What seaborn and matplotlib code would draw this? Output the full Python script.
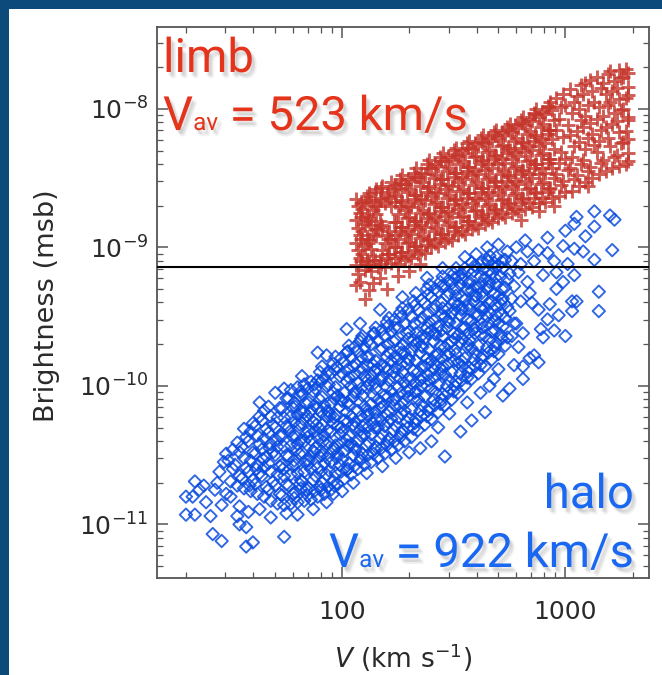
import matplotlib
matplotlib.use("Agg")
import matplotlib.pyplot as plt
import matplotlib.patheffects as pe
from matplotlib.patches import Rectangle
from matplotlib.transforms import IdentityTransform
from matplotlib.ticker import LogLocator, NullFormatter
import numpy as np
import seaborn as sns

# ---------------- data: (log10 V [km/s], log10 brightness [msb]) -------------
halo_core = [
 (1.50,-10.69),(1.51,-10.60),(1.49,-10.54),(1.51,-10.46),
 (1.53,-10.72),(1.54,-10.65),(1.52,-10.57),(1.54,-10.48),(1.53,-10.41),
 (1.56,-10.74),(1.55,-10.67),(1.57,-10.59),(1.56,-10.52),(1.55,-10.44),(1.57,-10.37),(1.56,-10.31),
 (1.59,-10.76),(1.60,-10.68),(1.58,-10.62),(1.59,-10.54),(1.60,-10.48),(1.58,-10.40),(1.59,-10.33),(1.60,-10.27),
 (1.62,-10.78),(1.61,-10.71),(1.63,-10.63),(1.62,-10.57),(1.61,-10.49),(1.63,-10.42),(1.62,-10.36),(1.61,-10.29),(1.63,-10.22),
 (1.65,-10.80),(1.66,-10.73),(1.64,-10.65),(1.65,-10.59),(1.66,-10.51),(1.64,-10.46),(1.65,-10.38),(1.66,-10.31),(1.64,-10.25),(1.65,-10.18),
 (1.68,-10.83),(1.67,-10.75),(1.69,-10.69),(1.68,-10.62),(1.67,-10.56),(1.69,-10.48),(1.68,-10.42),(1.67,-10.34),(1.69,-10.28),(1.68,-10.22),(1.67,-10.15),
 (1.71,-10.85),(1.72,-10.78),(1.70,-10.72),(1.71,-10.64),(1.72,-10.58),(1.70,-10.50),(1.71,-10.44),(1.72,-10.36),(1.70,-10.30),(1.71,-10.23),(1.72,-10.16),
 (1.74,-10.86),(1.73,-10.79),(1.75,-10.71),(1.74,-10.65),(1.73,-10.57),(1.75,-10.50),(1.74,-10.44),(1.73,-10.36),(1.75,-10.29),(1.74,-10.23),(1.73,-10.16),(1.75,-10.09),
 (1.77,-10.85),(1.78,-10.78),(1.76,-10.72),(1.77,-10.64),(1.78,-10.58),(1.76,-10.51),(1.77,-10.43),(1.78,-10.37),(1.76,-10.30),(1.77,-10.22),(1.78,-10.16),(1.76,-10.09),(1.77,-10.03),
 (1.80,-10.84),(1.79,-10.77),(1.81,-10.71),(1.80,-10.63),(1.79,-10.57),(1.81,-10.49),(1.80,-10.42),(1.79,-10.36),(1.81,-10.28),(1.80,-10.21),(1.79,-10.15),(1.81,-10.07),(1.80,-10.01),
 (1.83,-10.83),(1.84,-10.75),(1.82,-10.69),(1.83,-10.62),(1.84,-10.54),(1.82,-10.48),(1.83,-10.40),(1.84,-10.34),(1.82,-10.27),(1.83,-10.19),(1.84,-10.13),(1.82,-10.06),(1.83,-9.99),
 (1.86,-10.82),(1.85,-10.74),(1.87,-10.68),(1.86,-10.60),(1.85,-10.54),(1.87,-10.47),(1.86,-10.39),(1.85,-10.33),(1.87,-10.26),(1.86,-10.18),(1.85,-10.12),(1.87,-10.04),(1.86,-9.97),
 (1.89,-10.80),(1.90,-10.73),(1.88,-10.65),(1.89,-10.59),(1.90,-10.51),(1.88,-10.45),(1.89,-10.37),(1.90,-10.31),(1.88,-10.24),(1.89,-10.16),(1.90,-10.10),(1.88,-10.02),(1.89,-9.96),(1.90,-9.90),
 (1.92,-10.78),(1.91,-10.70),(1.93,-10.64),(1.92,-10.56),(1.91,-10.50),(1.93,-10.42),(1.92,-10.36),(1.91,-10.28),(1.93,-10.22),(1.92,-10.14),(1.91,-10.08),(1.93,-10.00),(1.92,-9.94),(1.91,-9.86),
 (1.95,-10.75),(1.96,-10.69),(1.94,-10.61),(1.95,-10.55),(1.96,-10.47),(1.94,-10.41),(1.95,-10.33),(1.96,-10.27),(1.94,-10.19),(1.95,-10.13),(1.96,-10.05),(1.94,-9.99),(1.95,-9.91),(1.96,-9.84),
 (1.98,-10.71),(1.97,-10.63),(1.99,-10.57),(1.98,-10.49),(1.97,-10.43),(1.99,-10.35),(1.98,-10.29),(1.97,-10.21),(1.99,-10.15),(1.98,-10.07),(1.97,-10.01),(1.99,-9.93),(1.98,-9.87),(1.97,-9.79),
 (2.01,-10.67),(2.02,-10.61),(2.00,-10.53),(2.01,-10.47),(2.02,-10.39),(2.00,-10.33),(2.01,-10.25),(2.02,-10.19),(2.00,-10.11),(2.01,-10.05),(2.02,-9.97),(2.00,-9.91),(2.01,-9.83),(2.02,-9.76),
 (2.04,-10.64),(2.03,-10.56),(2.05,-10.50),(2.04,-10.42),(2.03,-10.36),(2.05,-10.28),(2.04,-10.22),(2.03,-10.14),(2.05,-10.08),(2.04,-10.00),(2.03,-9.94),(2.05,-9.86),(2.04,-9.80),(2.03,-9.71),
 (2.07,-10.60),(2.08,-10.54),(2.06,-10.46),(2.07,-10.40),(2.08,-10.32),(2.06,-10.26),(2.07,-10.18),(2.08,-10.12),(2.06,-10.04),(2.07,-9.98),(2.08,-9.90),(2.06,-9.84),(2.07,-9.75),(2.08,-9.68),
 (2.10,-10.57),(2.09,-10.49),(2.11,-10.43),(2.10,-10.35),(2.09,-10.29),(2.11,-10.21),(2.10,-10.15),(2.09,-10.07),(2.11,-10.01),(2.10,-9.93),(2.09,-9.87),(2.11,-9.79),(2.10,-9.72),(2.09,-9.64),
 (2.13,-10.55),(2.14,-10.49),(2.12,-10.41),(2.13,-10.35),(2.14,-10.27),(2.12,-10.21),(2.13,-10.13),(2.14,-10.07),(2.12,-9.99),(2.13,-9.93),(2.14,-9.85),(2.12,-9.79),(2.13,-9.70),(2.14,-9.62),
 (2.16,-10.52),(2.15,-10.44),(2.17,-10.38),(2.16,-10.30),(2.15,-10.24),(2.17,-10.16),(2.16,-10.10),(2.15,-10.02),(2.17,-9.96),(2.16,-9.88),(2.15,-9.82),(2.17,-9.74),(2.16,-9.67),(2.15,-9.58),
 (2.19,-10.49),(2.20,-10.43),(2.18,-10.35),(2.19,-10.29),(2.20,-10.21),(2.18,-10.15),(2.19,-10.07),(2.20,-10.01),(2.18,-9.93),(2.19,-9.87),(2.20,-9.79),(2.18,-9.73),(2.19,-9.64),(2.20,-9.54),
 (2.22,-10.46),(2.21,-10.38),(2.23,-10.32),(2.22,-10.24),(2.21,-10.18),(2.23,-10.10),(2.22,-10.04),(2.21,-9.96),(2.23,-9.90),(2.22,-9.82),(2.21,-9.76),(2.23,-9.68),(2.22,-9.61),(2.21,-9.51),
 (2.25,-10.43),(2.26,-10.37),(2.24,-10.29),(2.25,-10.23),(2.26,-10.15),(2.24,-10.09),(2.25,-10.01),(2.26,-9.95),(2.24,-9.87),(2.25,-9.81),(2.26,-9.73),(2.24,-9.67),(2.25,-9.58),(2.26,-9.47),
 (2.28,-10.40),(2.27,-10.32),(2.29,-10.26),(2.28,-10.18),(2.27,-10.12),(2.29,-10.04),(2.28,-9.98),(2.27,-9.90),(2.29,-9.84),(2.28,-9.76),(2.27,-9.70),(2.29,-9.62),(2.28,-9.55),(2.27,-9.44),
 (2.31,-10.37),(2.32,-10.31),(2.30,-10.23),(2.31,-10.17),(2.32,-10.09),(2.30,-10.03),(2.31,-9.95),(2.32,-9.89),(2.30,-9.81),(2.31,-9.75),(2.32,-9.67),(2.30,-9.61),(2.31,-9.50),(2.32,-9.39),
 (2.34,-10.32),(2.33,-10.24),(2.35,-10.18),(2.34,-10.10),(2.33,-10.04),(2.35,-9.96),(2.34,-9.90),(2.33,-9.82),(2.35,-9.76),(2.34,-9.68),(2.33,-9.62),(2.35,-9.54),(2.34,-9.45),(2.33,-9.33),
 (2.37,-10.28),(2.38,-10.22),(2.36,-10.14),(2.37,-10.08),(2.38,-10.00),(2.36,-9.94),(2.37,-9.86),(2.38,-9.80),(2.36,-9.72),(2.37,-9.66),(2.38,-9.58),(2.36,-9.51),(2.37,-9.40),(2.38,-9.30),
 (2.40,-10.24),(2.39,-10.16),(2.41,-10.10),(2.40,-10.02),(2.39,-9.96),(2.41,-9.88),(2.40,-9.82),(2.39,-9.74),(2.41,-9.68),(2.40,-9.60),(2.39,-9.54),(2.41,-9.45),(2.40,-9.36),(2.39,-9.27),
 (2.43,-10.19),(2.44,-10.13),(2.42,-10.05),(2.43,-9.99),(2.44,-9.91),(2.42,-9.85),(2.43,-9.77),(2.44,-9.71),(2.42,-9.63),(2.43,-9.57),(2.44,-9.49),(2.42,-9.42),(2.43,-9.32),(2.44,-9.25),
 (2.46,-10.14),(2.45,-10.06),(2.47,-10.00),(2.46,-9.92),(2.45,-9.86),(2.47,-9.78),(2.46,-9.72),(2.45,-9.64),(2.47,-9.58),(2.46,-9.50),(2.45,-9.44),(2.47,-9.35),(2.46,-9.28),(2.45,-9.21),
 (2.49,-10.10),(2.50,-10.04),(2.48,-9.96),(2.49,-9.90),(2.50,-9.82),(2.48,-9.76),(2.49,-9.68),(2.50,-9.62),(2.48,-9.54),(2.49,-9.48),(2.50,-9.40),(2.48,-9.33),(2.49,-9.26),(2.50,-9.19),
 (2.52,-10.05),(2.51,-9.97),(2.53,-9.91),(2.52,-9.83),(2.51,-9.77),(2.53,-9.69),(2.52,-9.63),(2.51,-9.55),(2.53,-9.49),(2.52,-9.41),(2.51,-9.35),(2.53,-9.27),(2.52,-9.21),(2.51,-9.15),
 (2.55,-10.00),(2.56,-9.94),(2.54,-9.86),(2.55,-9.80),(2.56,-9.72),(2.54,-9.66),(2.55,-9.58),(2.56,-9.52),(2.54,-9.44),(2.55,-9.38),(2.56,-9.30),(2.54,-9.23),(2.55,-9.15),
 (2.58,-9.95),(2.57,-9.87),(2.59,-9.81),(2.58,-9.73),(2.57,-9.67),(2.59,-9.59),(2.58,-9.53),(2.57,-9.45),(2.59,-9.39),(2.58,-9.31),(2.57,-9.25),(2.59,-9.17),(2.58,-9.11),
 (2.61,-9.91),(2.62,-9.85),(2.60,-9.77),(2.61,-9.71),(2.62,-9.63),(2.60,-9.57),(2.61,-9.49),(2.62,-9.43),(2.60,-9.35),(2.61,-9.29),(2.62,-9.21),(2.60,-9.14),
 (2.64,-9.86),(2.63,-9.78),(2.65,-9.72),(2.64,-9.64),(2.63,-9.58),(2.65,-9.50),(2.64,-9.44),(2.63,-9.36),(2.65,-9.30),(2.64,-9.22),(2.63,-9.16),(2.65,-9.09),
 (2.67,-9.81),(2.68,-9.75),(2.66,-9.67),(2.67,-9.61),(2.68,-9.53),(2.66,-9.47),(2.67,-9.39),(2.68,-9.33),(2.66,-9.25),(2.67,-9.19),(2.68,-9.11),(2.66,-9.06),
 (2.70,-9.77),(2.69,-9.69),(2.71,-9.63),(2.70,-9.55),(2.69,-9.49),(2.71,-9.41),(2.70,-9.35),(2.69,-9.27),(2.71,-9.21),(2.70,-9.13),(2.69,-9.07),
 (2.73,-9.71),(2.74,-9.65),(2.72,-9.57),(2.73,-9.51),(2.74,-9.43),(2.72,-9.37),(2.73,-9.29),(2.74,-9.23),(2.72,-9.15),(2.73,-9.09),(2.74,-9.03),
 (2.76,-9.64),(2.77,-9.55),(2.75,-9.46),(2.76,-9.37),(2.77,-9.28),(2.75,-9.19),(2.76,-9.10),
]
halo_core_b = [
 (1.585,-10.72),(1.615,-10.60),(1.645,-10.53),(1.675,-10.45),(1.705,-10.39),(1.735,-10.60),(1.765,-10.33),
 (1.795,-10.46),(1.825,-10.24),(1.855,-10.51),(1.885,-10.28),(1.915,-10.40),(1.945,-10.22),(1.975,-10.52),
 (1.815,-10.68),(1.845,-10.37),(1.875,-10.14),(1.905,-10.62),(1.935,-10.32),(1.965,-10.09),(1.995,-10.41),
 (2.025,-10.26),(2.055,-10.05),(2.085,-10.36),(2.115,-9.96),(2.145,-10.19),(2.175,-9.85),(2.205,-10.08),
 (2.025,-9.88),(2.055,-10.44),(2.085,-9.79),(2.115,-10.30),(2.145,-9.89),(2.175,-10.25),(2.205,-9.70),
 (2.235,-9.94),(2.265,-10.20),(2.295,-9.80),(2.325,-10.05),(2.355,-9.71),(2.385,-9.92),(2.415,-9.62),
 (2.235,-9.58),(2.265,-9.85),(2.295,-10.08),(2.325,-9.55),(2.355,-9.86),(2.385,-9.48),(2.415,-9.78),
 (2.445,-9.88),(2.475,-9.53),(2.505,-9.74),(2.535,-9.45),(2.565,-9.62),(2.595,-9.35),(2.625,-9.55),
 (2.445,-9.40),(2.475,-9.70),(2.505,-9.30),(2.535,-9.82),(2.565,-9.26),(2.595,-9.48),(2.625,-9.26),
 (2.655,-9.40),(2.685,-9.60),(2.715,-9.30),(2.655,-9.17),(2.685,-9.22),(2.715,-9.48),
]
halo_core_c = [
 (1.785,-10.81),(1.785,-10.54),(1.785,-10.26),(1.785,-10.12),
 (1.815,-10.74),(1.815,-10.39),(1.815,-10.18),(1.815,-10.04),
 (1.845,-10.79),(1.845,-10.57),(1.845,-10.22),(1.845,-10.02),
 (1.875,-10.76),(1.875,-10.48),(1.875,-10.33),(1.875,-9.99),
 (1.905,-10.75),(1.905,-10.47),(1.905,-10.19),(1.905,-9.97),
 (1.935,-10.73),(1.935,-10.52),(1.935,-10.18),(1.935,-9.90),
 (1.965,-10.72),(1.965,-10.45),(1.965,-10.23),(1.965,-9.88),
 (1.995,-10.62),(1.995,-10.30),(1.995,-10.10),(1.995,-9.80),
 (2.025,-10.60),(2.025,-10.43),(2.025,-10.12),(2.025,-9.75),
 (2.055,-10.58),(2.055,-10.30),(2.055,-9.92),(2.055,-9.72),
 (2.085,-10.52),(2.085,-10.22),(2.085,-10.02),(2.085,-9.66),
 (2.115,-10.50),(2.115,-10.18),(2.115,-9.85),(2.115,-9.68),
 (2.145,-10.46),(2.145,-10.30),(2.145,-9.98),(2.145,-9.62),
 (2.175,-10.45),(2.175,-10.12),(2.175,-9.95),(2.175,-9.60),
 (2.205,-10.40),(2.205,-10.26),(2.205,-9.88),(2.205,-9.57),
 (2.235,-10.40),(2.235,-10.14),(2.235,-9.79),(2.235,-9.52),
 (2.265,-10.34),(2.265,-10.05),(2.265,-9.76),(2.265,-9.50),
 (2.295,-10.30),(2.295,-9.95),(2.295,-9.66),(2.295,-9.45),
 (2.325,-10.27),(2.325,-9.98),(2.325,-9.71),(2.325,-9.42),
 (2.355,-10.22),(2.355,-10.00),(2.355,-9.64),(2.355,-9.38),
 (2.385,-10.18),(2.385,-9.84),(2.385,-9.62),(2.385,-9.34),
 (2.415,-10.14),(2.415,-9.94),(2.415,-9.52),(2.415,-9.30),
 (2.445,-10.10),(2.445,-9.80),(2.445,-9.60),(2.445,-9.28),
 (2.475,-10.05),(2.475,-9.84),(2.475,-9.44),(2.475,-9.24),
 (2.505,-10.00),(2.505,-9.66),(2.505,-9.45),(2.505,-9.22),
 (2.535,-9.96),(2.535,-9.58),(2.535,-9.36),(2.535,-9.19),
 (2.565,-9.90),(2.565,-9.70),(2.565,-9.42),(2.565,-9.17),
 (2.595,-9.86),(2.595,-9.62),(2.595,-9.28),(2.595,-9.13),
 (2.625,-9.80),(2.625,-9.45),(2.625,-9.33),(2.625,-9.11),
 (2.655,-9.76),(2.655,-9.55),(2.655,-9.28),(2.655,-9.10),
 (2.685,-9.72),(2.685,-9.42),(2.685,-9.15),
 (2.715,-9.66),(2.715,-9.38),(2.715,-9.10),
]
halo_sparse = [
 (1.30,-10.80),(1.34,-10.69),(1.33,-10.80),(1.30,-10.93),(1.34,-10.93),(1.38,-10.72),(1.39,-10.84),
 (1.41,-10.94),(1.43,-10.75),(1.42,-11.07),(1.46,-11.12),(1.48,-10.78),(1.54,-11.00),(1.57,-11.02),
 (1.53,-10.94),(1.57,-11.16),(1.60,-11.13),(1.74,-11.09),(1.54,-10.87),(1.58,-10.91),(1.45,-10.62),
 (1.47,-10.55),(1.44,-10.70),(1.36,-10.75),(1.48,-10.49),(1.50,-10.80),(1.46,-10.86),
 (1.63,-10.89),(1.75,-10.92),(1.87,-10.89),(1.93,-10.84),(1.96,-10.78),(1.68,-10.95),(1.80,-10.93),
 (2.00,-10.76),(2.05,-10.70),(2.11,-10.63),(2.18,-10.58),(2.24,-10.52),(2.30,-10.48),(2.35,-10.45),
 (2.40,-10.40),(2.43,-10.30),(2.46,-10.51),(2.48,-10.20),(2.53,-10.33),(2.56,-10.12),(2.58,-10.25),
 (2.62,-10.05),(2.64,-10.19),(2.66,-10.00),(2.68,-9.95),(2.70,-9.88),(2.72,-10.07),(2.75,-10.02),
 (2.77,-9.85),(2.79,-9.72),(2.81,-9.95),(2.81,-9.86),(2.84,-9.80),(2.86,-9.78),(2.88,-9.83),
 (2.78,-9.55),(2.81,-9.62),(2.89,-9.59),(2.90,-9.65),(2.95,-9.60),(3.00,-9.64),(2.97,-9.49),
 (3.03,-9.46),(3.15,-9.46),(2.93,-9.41),(3.03,-9.39),(3.05,-9.39),(2.80,-9.39),(3.15,-9.32),
 (2.85,-9.40),(2.88,-9.45),(2.92,-9.52),(2.84,-9.33),
 (3.13,-8.74),(3.20,-8.77),(3.22,-8.80),(3.21,-9.02),(3.05,-8.78),(3.04,-8.83),(3.13,-8.85),
 (3.09,-8.92),(3.00,-8.88),(2.92,-8.93),(2.99,-8.99),(3.04,-9.01),(3.13,-9.09),(3.08,-9.03),
 (2.88,-9.02),(2.83,-9.03),(2.92,-9.04),(3.01,-9.12),(2.99,-9.25),(2.96,-9.30),(3.04,-9.20),
 (2.96,-9.18),(2.90,-9.20),(2.83,-9.25),(2.86,-9.10),(2.80,-9.12),(2.78,-9.00),(2.95,-9.10),
 (2.70,-8.98),(2.65,-9.00),(2.82,-8.95),(2.79,-9.18),
 (1.63,-10.12),(1.70,-10.05),(1.74,-10.02),(1.82,-9.93),(1.89,-9.76),(1.93,-9.78),(2.02,-9.59),
 (2.08,-9.55),(2.17,-9.45),(2.27,-9.36),(2.38,-9.22),(2.45,-9.15),(2.55,-9.07),(2.60,-9.05),
]
limb_core = [
 (2.07,-9.19),(2.06,-9.13),(2.08,-9.08),(2.07,-9.02),(2.06,-8.97),(2.08,-8.91),(2.07,-8.86),(2.06,-8.80),(2.08,-8.75),(2.07,-8.70),(2.06,-8.65),
 (2.10,-9.16),(2.11,-9.10),(2.09,-9.05),(2.10,-8.99),(2.11,-8.94),(2.09,-8.88),(2.10,-8.83),(2.11,-8.77),(2.09,-8.72),(2.10,-8.67),(2.11,-8.63),
 (2.13,-9.17),(2.12,-9.12),(2.14,-9.06),(2.13,-9.01),(2.12,-8.95),(2.14,-8.90),(2.13,-8.84),(2.12,-8.79),(2.14,-8.73),(2.13,-8.67),(2.12,-8.61),
 (2.16,-9.14),(2.17,-9.09),(2.15,-8.92),(2.16,-8.87),(2.17,-8.81),(2.15,-8.76),(2.16,-8.70),(2.17,-8.64),(2.15,-8.58),
 (2.19,-9.14),(2.20,-9.08),(2.18,-9.02),(2.19,-8.97),(2.20,-8.91),(2.18,-8.85),(2.19,-8.68),(2.20,-8.62),(2.18,-8.56),
 (2.22,-9.11),(2.21,-9.05),(2.23,-9.00),(2.22,-8.94),(2.21,-8.88),(2.23,-8.82),(2.22,-8.70),(2.21,-8.64),(2.23,-8.58),(2.22,-8.53),
 (2.25,-9.12),(2.26,-9.06),(2.24,-9.00),(2.25,-8.94),(2.26,-8.88),(2.24,-8.82),(2.25,-8.76),(2.26,-8.70),(2.24,-8.63),(2.25,-8.57),(2.26,-8.51),
 (2.28,-9.09),(2.27,-9.03),(2.29,-8.97),(2.28,-8.91),(2.27,-8.85),(2.29,-8.79),(2.28,-8.73),(2.27,-8.67),(2.29,-8.60),(2.28,-8.54),(2.27,-8.48),
 (2.31,-9.08),(2.32,-9.02),(2.30,-8.96),(2.31,-8.90),(2.32,-8.84),(2.30,-8.78),(2.31,-8.71),(2.32,-8.65),(2.30,-8.58),(2.31,-8.52),(2.32,-8.46),
 (2.34,-9.05),(2.33,-8.99),(2.35,-8.93),(2.34,-8.87),(2.33,-8.81),(2.35,-8.75),(2.34,-8.68),(2.33,-8.62),(2.35,-8.56),(2.34,-8.49),(2.33,-8.43),
 (2.37,-9.04),(2.38,-8.98),(2.36,-8.92),(2.37,-8.85),(2.38,-8.79),(2.36,-8.73),(2.37,-8.66),(2.38,-8.60),(2.36,-8.53),(2.37,-8.47),(2.38,-8.40),
 (2.40,-9.00),(2.39,-8.94),(2.41,-8.88),(2.40,-8.82),(2.39,-8.75),(2.41,-8.69),(2.40,-8.63),(2.39,-8.56),(2.41,-8.50),(2.40,-8.43),(2.39,-8.37),
 (2.43,-8.99),(2.44,-8.93),(2.42,-8.86),(2.43,-8.80),(2.44,-8.74),(2.42,-8.67),(2.43,-8.61),(2.44,-8.54),(2.42,-8.48),(2.43,-8.41),(2.44,-8.35),
 (2.46,-8.96),(2.45,-8.90),(2.47,-8.84),(2.46,-8.77),(2.45,-8.71),(2.47,-8.64),(2.46,-8.58),(2.45,-8.51),(2.47,-8.45),(2.46,-8.38),(2.45,-8.32),
 (2.49,-8.95),(2.50,-8.88),(2.48,-8.82),(2.49,-8.75),(2.50,-8.69),(2.48,-8.62),(2.49,-8.56),(2.50,-8.49),(2.48,-8.43),(2.49,-8.36),(2.50,-8.30),
 (2.52,-8.91),(2.51,-8.85),(2.53,-8.78),(2.52,-8.72),(2.51,-8.65),(2.53,-8.59),(2.52,-8.53),(2.51,-8.46),(2.53,-8.40),(2.52,-8.34),(2.51,-8.28),
 (2.55,-8.90),(2.56,-8.84),(2.54,-8.77),(2.55,-8.71),(2.56,-8.64),(2.54,-8.58),(2.55,-8.51),(2.56,-8.45),(2.54,-8.38),(2.55,-8.32),(2.56,-8.25),
 (2.58,-8.87),(2.57,-8.81),(2.59,-8.74),(2.58,-8.68),(2.57,-8.61),(2.59,-8.55),(2.58,-8.48),(2.57,-8.42),(2.59,-8.35),(2.58,-8.29),(2.57,-8.23),
 (2.61,-8.86),(2.62,-8.79),(2.60,-8.73),(2.61,-8.66),(2.62,-8.60),(2.60,-8.53),(2.61,-8.47),(2.62,-8.40),(2.60,-8.34),(2.61,-8.27),(2.62,-8.21),
 (2.64,-8.83),(2.63,-8.77),(2.65,-8.70),(2.64,-8.64),(2.63,-8.57),(2.65,-8.51),(2.64,-8.44),(2.63,-8.38),(2.65,-8.31),(2.64,-8.25),(2.63,-8.19),
 (2.67,-8.82),(2.68,-8.75),(2.66,-8.69),(2.67,-8.62),(2.68,-8.56),(2.66,-8.49),(2.67,-8.43),(2.68,-8.36),(2.66,-8.30),(2.67,-8.23),(2.68,-8.17),
 (2.70,-8.79),(2.69,-8.73),(2.71,-8.66),(2.70,-8.60),(2.69,-8.53),(2.71,-8.47),(2.70,-8.40),(2.69,-8.34),(2.71,-8.27),(2.70,-8.21),(2.69,-8.15),
 (2.73,-8.78),(2.74,-8.71),(2.72,-8.65),(2.73,-8.58),(2.74,-8.52),(2.72,-8.45),(2.73,-8.39),(2.74,-8.32),(2.72,-8.26),(2.73,-8.19),(2.74,-8.13),
 (2.76,-8.75),(2.75,-8.69),(2.77,-8.62),(2.76,-8.56),(2.75,-8.49),(2.77,-8.43),(2.76,-8.36),(2.75,-8.30),(2.77,-8.23),(2.76,-8.17),(2.75,-8.11),
 (2.79,-8.74),(2.80,-8.67),(2.78,-8.61),(2.79,-8.54),(2.80,-8.47),(2.78,-8.41),(2.79,-8.34),(2.80,-8.28),(2.78,-8.21),(2.79,-8.14),(2.80,-8.08),
 (2.82,-8.72),(2.81,-8.65),(2.83,-8.58),(2.82,-8.52),(2.81,-8.45),(2.83,-8.38),(2.82,-8.31),(2.81,-8.25),(2.83,-8.18),(2.82,-8.12),(2.81,-8.06),
 (2.85,-8.71),(2.86,-8.64),(2.84,-8.57),(2.85,-8.50),(2.86,-8.43),(2.84,-8.37),(2.85,-8.30),(2.86,-8.23),(2.84,-8.16),(2.85,-8.09),(2.86,-8.03),
 (2.88,-8.68),(2.87,-8.61),(2.89,-8.54),(2.88,-8.47),(2.87,-8.40),(2.89,-8.33),(2.88,-8.27),(2.87,-8.20),(2.89,-8.13),(2.88,-8.06),(2.87,-8.00),
 (2.91,-8.67),(2.92,-8.60),(2.90,-8.53),(2.91,-8.46),(2.92,-8.39),(2.90,-8.32),(2.91,-8.25),(2.92,-8.18),(2.90,-8.11),(2.91,-8.04),(2.92,-7.98),
 (2.94,-8.64),(2.93,-8.57),(2.95,-8.50),(2.94,-8.43),(2.93,-8.36),(2.95,-8.29),(2.94,-8.22),(2.93,-8.15),(2.95,-8.08),(2.94,-8.01),(2.93,-7.95),
 (2.97,-8.63),(2.98,-8.55),(2.96,-8.47),(2.97,-8.39),(2.98,-8.31),(2.96,-8.15),(2.97,-8.07),(2.98,-7.99),(2.96,-7.92),
 (3.00,-8.60),(2.99,-8.52),(3.01,-8.44),(3.00,-8.36),(2.99,-8.20),(3.01,-8.12),(3.00,-7.97),(2.99,-7.89),
 (3.03,-8.59),(3.04,-8.51),(3.02,-8.43),(3.03,-8.35),(3.04,-8.27),(3.02,-8.19),(3.03,-8.03),(3.04,-7.95),(3.02,-7.86),
 (3.06,-8.56),(3.05,-8.48),(3.07,-8.40),(3.06,-8.24),(3.05,-8.16),(3.07,-8.08),(3.06,-8.00),(3.05,-7.91),(3.07,-7.83),
 (3.09,-8.53),(3.10,-8.45),(3.08,-8.37),(3.09,-8.29),(3.10,-8.21),(3.08,-8.13),(3.09,-8.05),(3.10,-7.97),(3.08,-7.89),(3.09,-7.81),
 (3.12,-8.50),(3.11,-8.42),(3.13,-8.26),(3.12,-8.18),(3.11,-8.10),(3.13,-7.95),(3.12,-7.87),(3.11,-7.79),
 (3.15,-8.47),(3.16,-8.39),(3.14,-8.31),(3.15,-8.23),(3.16,-8.15),(3.14,-8.07),(3.15,-7.99),(3.16,-7.85),(3.14,-7.77),
 (3.18,-8.45),(3.17,-8.37),(3.19,-8.21),(3.18,-8.13),(3.17,-8.05),(3.19,-7.97),(3.18,-7.89),(3.17,-7.81),(3.19,-7.75),
 (3.21,-8.43),(3.22,-8.35),(3.20,-8.27),(3.21,-8.11),(3.22,-8.03),(3.20,-7.95),(3.21,-7.87),(3.22,-7.80),(3.20,-7.73),
 (3.24,-8.41),(3.23,-8.33),(3.25,-8.25),(3.24,-8.17),(3.23,-8.09),(3.25,-8.01),(3.24,-7.93),(3.23,-7.85),(3.25,-7.78),(3.24,-7.72),
 (3.27,-8.40),(3.28,-8.32),(3.26,-8.24),(3.27,-8.16),(3.28,-8.08),(3.26,-8.00),(3.27,-7.92),(3.28,-7.84),(3.26,-7.77),(3.27,-7.71),
 (3.28,-8.38),(3.28,-8.22),(3.28,-8.06),(3.28,-7.90),(3.28,-7.74),
]
limb_core_b = [
 (2.085,-9.10),(2.085,-8.94),(2.085,-8.78),(2.085,-8.68),
 (2.115,-9.13),(2.115,-8.97),(2.115,-8.81),(2.115,-8.66),
 (2.145,-9.09),(2.145,-8.87),(2.145,-8.70),(2.145,-8.60),
 (2.175,-9.12),(2.175,-8.84),(2.175,-8.66),(2.175,-8.57),
 (2.205,-9.05),(2.205,-8.94),(2.205,-8.60),
 (2.235,-9.08),(2.235,-8.91),(2.235,-8.67),(2.235,-8.55),
 (2.265,-9.03),(2.265,-8.85),(2.265,-8.66),(2.265,-8.54),
 (2.295,-9.06),(2.295,-8.88),(2.295,-8.70),(2.295,-8.51),
 (2.325,-8.99),(2.325,-8.81),(2.325,-8.62),(2.325,-8.49),
 (2.355,-9.02),(2.355,-8.84),(2.355,-8.65),(2.355,-8.46),
 (2.385,-8.95),(2.385,-8.76),(2.385,-8.57),(2.385,-8.43),
 (2.415,-8.97),(2.415,-8.78),(2.415,-8.60),(2.415,-8.40),
 (2.445,-8.90),(2.445,-8.71),(2.445,-8.51),(2.445,-8.38),
 (2.475,-8.93),(2.475,-8.74),(2.475,-8.55),(2.475,-8.35),
 (2.505,-8.85),(2.505,-8.66),(2.505,-8.46),(2.505,-8.33),
 (2.535,-8.88),(2.535,-8.69),(2.535,-8.49),(2.535,-8.30),
 (2.565,-8.81),(2.565,-8.61),(2.565,-8.42),(2.565,-8.28),
 (2.595,-8.84),(2.595,-8.64),(2.595,-8.45),(2.595,-8.25),
 (2.625,-8.76),(2.625,-8.57),(2.625,-8.37),(2.625,-8.24),
 (2.655,-8.80),(2.655,-8.60),(2.655,-8.40),(2.655,-8.21),
 (2.685,-8.72),(2.685,-8.52),(2.685,-8.33),(2.685,-8.19),
 (2.715,-8.76),(2.715,-8.56),(2.715,-8.36),(2.715,-8.17),
 (2.745,-8.68),(2.745,-8.48),(2.745,-8.28),(2.745,-8.15),
 (2.775,-8.72),(2.775,-8.52),(2.775,-8.31),(2.775,-8.12),
 (2.805,-8.64),(2.805,-8.44),(2.805,-8.24),(2.805,-8.10),
 (2.835,-8.68),(2.835,-8.47),(2.835,-8.27),(2.835,-8.07),
 (2.865,-8.60),(2.865,-8.40),(2.865,-8.19),(2.865,-8.04),
 (2.895,-8.64),(2.895,-8.43),(2.895,-8.22),(2.895,-8.02),
 (2.925,-8.58),(2.925,-8.36),(2.925,-8.15),(2.925,-7.99),
]
limb_sparse = [
 (2.08,-9.25),(2.10,-9.37),(2.14,-9.26),(2.25,-9.21),(2.20,-9.30),(2.12,-9.31),(2.17,-9.22),
 (2.30,-9.17),(2.88,-8.74),(2.95,-8.70),(2.80,-8.80),(3.10,-8.56),(2.35,-9.12),(2.06,-9.27),
]
threshold_b = 7.2e-10          # horizontal reference line (msb)
x_limits = (14.8, 2370.0)
y_limits = (4.1e-12, 3.9e-8)
x_ticks = [100, 1000]
x_tick_labels = ["100", "1000"]
y_ticks = [1e-11, 1e-10, 1e-9, 1e-8]
y_tick_labels = [r"$10^{-11}$", r"$10^{-10}$", r"$10^{-9}$", r"$10^{-8}$"]
x_label = r"$V$ (km s$^{-1}$)"
y_label = "Brightness (msb)"
limb_name, limb_speed = "limb", " = 523 km/s"
halo_name, halo_speed = "halo", " = 922 km/s"

halo_all = halo_core + halo_core_b + halo_core_c + halo_sparse
limb_all = limb_core + limb_core_b + limb_sparse
halo_v = 10 ** np.array([p[0] for p in halo_all])
halo_b = 10 ** np.array([p[1] for p in halo_all])
limb_v = 10 ** np.array([p[0] for p in limb_all])
limb_b = 10 ** np.array([p[1] for p in limb_all])

# ---------------- style ----------------
sns.set_style("ticks")
plt.rcParams["font.family"] = ["DejaVu Sans"]
plt.rcParams["mathtext.fontset"] = "dejavusans"

W, H = 662, 675
fig = plt.figure(figsize=(W / 100, H / 100), dpi=100, facecolor="white")
L, R, T, B = 157, 649, 27, 578
ax = fig.add_axes([L / W, 1 - B / H, (R - L) / W, (B - T) / H])
ax.set_facecolor("white")

halo_color = "#0a4be0"
limb_color = "#c4352b"
halo_text = "#1a68f2"
limb_text = "#e5341c"
axis_grey = "#555555"
text_grey = "#2a2a2a"

sns.scatterplot(x=halo_v, y=halo_b, marker="D", s=40, facecolors="none",
                edgecolor=halo_color, linewidth=1.35, alpha=0.85, ax=ax, legend=False, zorder=2)
sns.scatterplot(x=limb_v, y=limb_b, marker="+", s=100, color=limb_color,
                linewidth=2.1, alpha=0.8, ax=ax, legend=False, zorder=3)
ax.axhline(threshold_b, color="black", lw=1.5, zorder=5)

ax.set_xscale("log")
ax.set_yscale("log")
ax.set_xlim(*x_limits)
ax.set_ylim(*y_limits)
ax.set_xticks(x_ticks, labels=x_tick_labels)
ax.set_yticks(y_ticks, labels=y_tick_labels)
ax.xaxis.set_minor_locator(LogLocator(base=10, subs=np.arange(2, 10) * 1.0, numticks=30))
ax.yaxis.set_minor_locator(LogLocator(base=10, subs=np.arange(2, 10) * 1.0, numticks=30))
ax.xaxis.set_minor_formatter(NullFormatter())
ax.yaxis.set_minor_formatter(NullFormatter())
ax.tick_params(which="both", direction="in", top=True, right=True, color=axis_grey)
ax.tick_params(which="major", length=8, width=1.1, labelsize=18, labelcolor=text_grey)
ax.tick_params(axis="x", which="major", pad=16)
ax.tick_params(axis="y", which="major", pad=6)
ax.tick_params(which="minor", length=4, width=0.9)
for s in ax.spines.values():
    s.set_color(axis_grey)
    s.set_linewidth(1.3)

ax.set_xlabel(x_label, fontsize=19, color=text_grey)
ax.xaxis.label.set_va("top")
ax.xaxis.set_label_coords(0.5, (B - 641) / (B - T))
ax.set_ylabel(y_label, fontsize=19.5, color=text_grey)
ax.yaxis.set_label_coords((60 - L) / (R - L), 0.494)

# ---------------- big annotations with soft shadow ----------------
shadow = [pe.SimplePatchShadow(offset=o, shadow_rgbFace="black", alpha=0.025)
          for o in [(1.5, -2.5), (2.5, -3), (3, -4), (2, -2), (1, -3), (3.5, -3), (2.5, -4.5), (4, -4.5)]] + [pe.Normal()]
renderer = fig.canvas.get_renderer()
title_font = ["Roboto", "DejaVu Sans"]


def compose(parts, x_px, base_px, align, color):
    texts = []
    for s, fs in parts:
        t = fig.text(0, 0, s, fontsize=fs, color=color, family=title_font, weight="normal",
                     ha="left", va="baseline", transform=IdentityTransform(), zorder=20)
        t.set_path_effects(shadow)
        texts.append(t)
    widths = [t.get_window_extent(renderer).width for t in texts]
    x = x_px if align == "left" else x_px - sum(widths)
    for t, w in zip(texts, widths):
        t.set_position((x, H - base_px))
        x += w


big, sub = 34, 17.5
compose([(limb_name, big)], 163, 72, "left", limb_text)
compose([("V", big), ("av", sub), (limb_speed, big)], 163, 130, "left", limb_text)
compose([(halo_name, big)], 634, 508, "right", halo_text)
compose([("V", big), ("av", sub), (halo_speed, big)], 634, 567, "right", halo_text)

# ---------------- dark frame (left and top strips) ----------------
navy = "#0b4a7b"
fig.add_artist(Rectangle((0, 0), 8.5 / W, 1, transform=fig.transFigure, facecolor=navy, edgecolor="none", zorder=30))
fig.add_artist(Rectangle((0, 1 - 8.5 / H), 1, 8.5 / H, transform=fig.transFigure, facecolor=navy, edgecolor="none", zorder=30))

fig.savefig("out.png", dpi=100, facecolor="white")
